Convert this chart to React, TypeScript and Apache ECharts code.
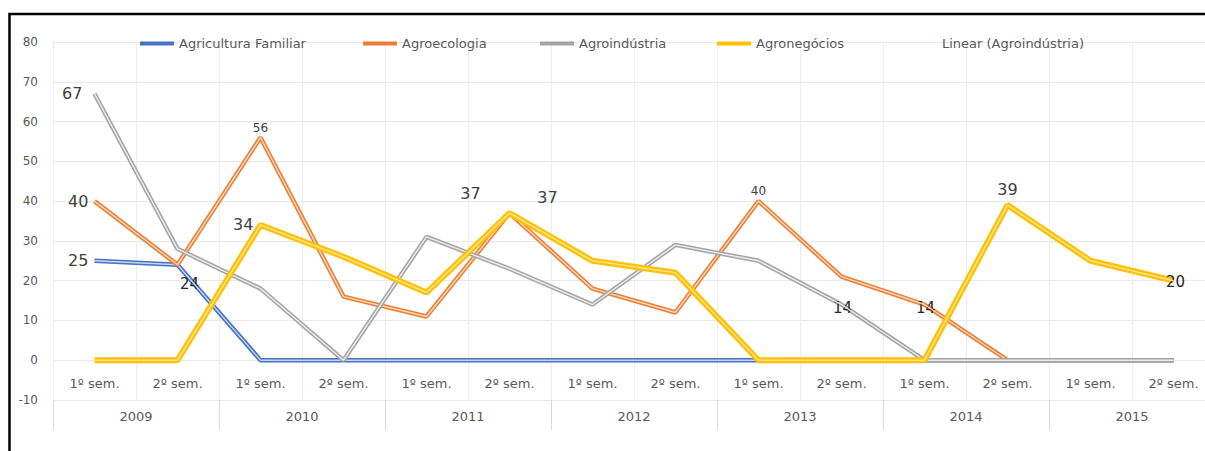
import React, { useEffect, useRef } from "react";
import * as echarts from "echarts";

const semesters = [
  "1º sem.", "2º sem.", "1º sem.", "2º sem.", "1º sem.", "2º sem.", "1º sem.",
  "2º sem.", "1º sem.", "2º sem.", "1º sem.", "2º sem.", "1º sem.", "2º sem.",
];
const years = ["2009", "2010", "2011", "2012", "2013", "2014", "2015"];

const agriculturaFamiliar = [25, 24, 0, 0, 0, 0, 0, 0, 0, 0, 0, 0, 0, 0];
const agroecologia = [40, 24, 56, 16, 11, 37, 18, 12, 40, 21, 14, 0, 0, 0];
const agroindustria = [67, 28, 18, 0, 31, 23, 14, 29, 25, 14, 0, 0, 0, 0];
const agronegocios = [0, 0, 34, 26, 17, 37, 25, 22, 0, 0, 0, 39, 25, 20];

const yTicks = { min: -10, max: 80, interval: 10 };

const big = { fontSize: 16 };
const small = { fontSize: 12 };
const mid = { fontSize: 15, color: "#262626" };

const labelCfg: Record<string, Record<number, any>> = {
  fam: {
    0: { position: "left", distance: 6, ...big },
    1: { position: "inside", offset: [12, 19], ...mid },
  },
  eco: {
    0: { position: "left", distance: 6, ...big },
    2: { position: "top", distance: 3, ...small },
    5: { position: "top", offset: [38, -2], ...big },
    8: { position: "top", distance: 4, ...small },
    10: { position: "inside", offset: [1, 3], ...mid },
  },
  ind: {
    0: { position: "left", distance: 12, ...big },
    9: { position: "inside", offset: [1, 3], ...mid },
  },
  neg: {
    2: { position: "left", distance: 7, ...big },
    5: { position: "top", offset: [-39, -6], ...big },
    11: { position: "top", distance: 8, ...big },
    13: { position: "inside", offset: [2, 1], ...mid },
  },
};

const FONT = "'DejaVu Sans', sans-serif";

function buildData(values: number[], key: string) {
  const cfg = labelCfg[key] || {};
  return values.map((v, i) =>
    cfg[i]
      ? {
          value: v,
          label: {
            show: true,
            color: "#404040",
            fontFamily: FONT,
            formatter: "{c}",
            ...cfg[i],
          },
        }
      : v
  );
}

const seriesDefs = [
  { name: "Agricultura Familiar", key: "fam", values: agriculturaFamiliar, color: "#4472C4", inner: "#C9D6EE", w: 4.5, iw: 1.4, legendLeft: 135 },
  { name: "Agroecologia", key: "eco", values: agroecologia, color: "#ED7D31", inner: "#FADBC6", w: 4.5, iw: 1.4, legendLeft: 358 },
  { name: "Agroindústria", key: "ind", values: agroindustria, color: "#A5A5A5", inner: "#EDEDED", w: 4.5, iw: 1.4, legendLeft: 535 },
  { name: "Agronegócios", key: "neg", values: agronegocios, color: "#FFC000", inner: "#FFE28A", w: 6, iw: 1.6, legendLeft: 712 },
];

export default function App() {
  const ref = useRef<HTMLDivElement>(null);
  useEffect(() => {
    if (!ref.current) return;
    const chart = echarts.init(ref.current, null, { renderer: "svg" });
    const series: any[] = [];
    seriesDefs.forEach((s, idx) => {
      series.push({
        name: s.name,
        type: "line",
        xAxisIndex: 0,
        data: buildData(s.values, s.key),
        symbol: "circle",
        symbolSize: 0.1,
        showSymbol: true,
        lineStyle: { color: s.color, width: s.w },
        itemStyle: { color: "rgba(0,0,0,0)" },
        z: 2 + idx * 2,
        label: { show: false },
      });
      series.push({
        name: s.name + " (inner)",
        type: "line",
        xAxisIndex: 0,
        data: s.values,
        symbol: "none",
        silent: true,
        lineStyle: { color: s.inner, width: s.iw },
        itemStyle: { color: s.inner },
        z: 3 + idx * 2,
      });
    });
    series.push({
      name: "Linear (Agroindústria)",
      type: "line",
      xAxisIndex: 0,
      data: [],
      symbol: "none",
      lineStyle: { opacity: 0 },
      itemStyle: { opacity: 0 },
    });

    const legendText = { color: "#595959", fontSize: 13, fontFamily: FONT };
    const legends: any[] = seriesDefs.map((s) => ({
      data: [{ name: s.name, icon: "rect", itemStyle: { color: s.color } }],
      left: s.legendLeft,
      top: 32,
      itemWidth: 34,
      itemHeight: 4,
      textStyle: legendText,
      selectedMode: false,
    }));
    legends.push({
      data: [{ name: "Linear (Agroindústria)", icon: "rect", itemStyle: { color: "rgba(0,0,0,0)" } }],
      left: 898,
      top: 32,
      itemWidth: 34,
      itemHeight: 4,
      textStyle: legendText,
      selectedMode: false,
    });

    chart.setOption({
      animation: false,
      backgroundColor: "#ffffff",
      textStyle: { fontFamily: FONT },
      graphic: [
        {
          type: "polyline",
          shape: { points: [[9.5, 451], [9.5, 14], [1220, 14]] },
          style: { stroke: "#000", lineWidth: 2.5, fill: "none" },
          z: 100,
        },
      ],
      legend: legends,
      grid: { left: 53, top: 42, right: 5, bottom: 51, containLabel: false },
      xAxis: [
        {
          type: "category",
          data: semesters,
          position: "bottom",
          axisLine: { show: false, onZero: false },
          axisTick: { show: false },
          axisLabel: { color: "#595959", fontSize: 13, margin: 10, inside: true, fontFamily: FONT, interval: 0 },
          splitLine: { show: true, lineStyle: { color: "#EDEDED", width: 1 } },
        },
        {
          type: "category",
          data: years,
          position: "bottom",
          axisLine: { show: false, onZero: false },
          axisTick: { show: true, length: 30, lineStyle: { color: "#D9D9D9" } },
          axisLabel: { color: "#595959", fontSize: 13, margin: 10, fontFamily: FONT, interval: 0 },
          splitLine: { show: false },
        },
      ],
      yAxis: {
        type: "value",
        min: yTicks.min,
        max: yTicks.max,
        interval: yTicks.interval,
        axisLine: { show: false },
        axisTick: { show: false },
        axisLabel: { color: "#595959", fontSize: 12, margin: 15, fontFamily: FONT },
        splitLine: { show: true, lineStyle: { color: "#E8E8E8", width: 1 } },
      },
      series,
    });
    return () => chart.dispose();
  }, []);

  return (
    <div style={{ position: "absolute", left: 0, top: 0, width: 1205, height: 451, overflow: "hidden", background: "#fff" }}>
      <div ref={ref} style={{ width: 1220, height: 451 }} />
    </div>
  );
}
